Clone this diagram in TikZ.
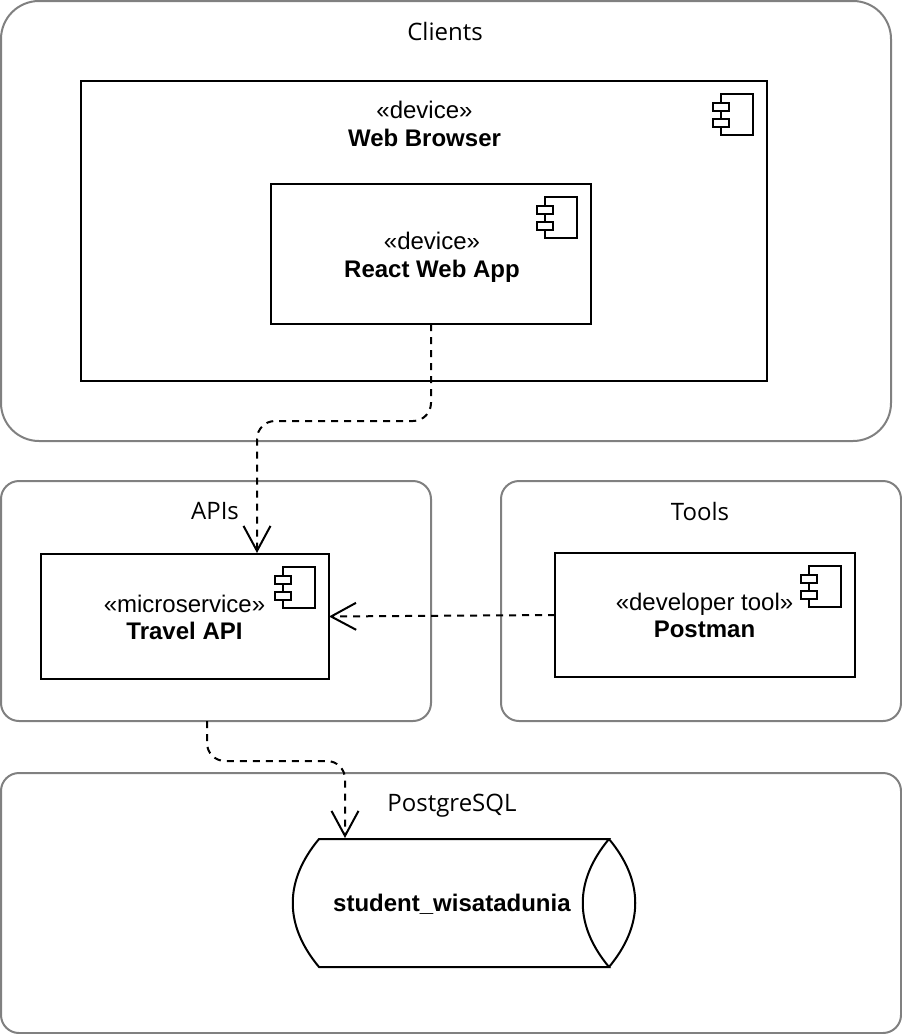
\documentclass[tikz,border=0pt]{standalone}
\usepackage{fontspec}
\setmainfont{Liberation Sans}
\newfontfamily\grpfont{Open Sans}
\usetikzlibrary{arrows.meta}
\tikzset{
  x=1pt,y=-1pt,
  group/.style={draw=black!50,line width=2pt,rounded corners=#1,inner sep=0pt,outer sep=0pt,minimum width=0pt},
  group/.default=18pt,
  compbox/.style={draw=black,line width=2pt,inner sep=0pt,outer sep=0pt},
  txt/.style={inner sep=0pt,align=center,font=\fontsize{24}{27.5}\selectfont},
  grouptitle/.style={inner sep=0pt,font=\grpfont\fontsize{24}{27}\selectfont},
  dep/.style={draw=black,line width=2pt,dash pattern=on 7pt off 6pt,rounded corners=18pt},
  opentip/.style={-{Straight Barb[length=25pt,width=27pt,line width=2pt]}},
  icon/.style={draw=black,line width=2pt,fill=white},
  pics/compicon/.style={code={
    \draw[icon] (-46,13) rectangle (-14,54);
    \draw[icon] (-54,22) rectangle (-38,30);
    \draw[icon] (-54,38) rectangle (-38,46);
  }}
}
\begin{document}
\begin{tikzpicture}
\useasboundingbox (0,0) rectangle (902,1034);
% groups
\node[group=38pt,minimum width=890pt,minimum height=440pt,anchor=north west] (clients) at (1,1) {};
\node[group,minimum width=430pt,minimum height=240pt,anchor=north west] (apis) at (1,481) {};
\node[group,minimum width=400pt,minimum height=240pt,anchor=north west] (tools) at (501,481) {};
\node[group,minimum width=900pt,minimum height=260pt,anchor=north west] (pg) at (1,773) {};
\node[grouptitle] (tclients) at (445,31) {Clients};
\node[grouptitle] (tapis) at (215,511) {APIs};
\node[grouptitle] (ttools) at (700,511) {Tools};
\node[grouptitle] (tpg) at (452,805.5) {PostgreSQL};
% components
\node[compbox,minimum width=686pt,minimum height=300pt,anchor=north west] (web) at (81,81) {};
\node[compbox,minimum width=320pt,minimum height=140pt,anchor=north west] (react) at (271,184) {};
\node[compbox,minimum width=288pt,minimum height=125pt,anchor=north west] (api) at (41,554) {};
\node[compbox,minimum width=300pt,minimum height=124pt,anchor=north west] (postman) at (555,553) {};
\pic at (web.north east) {compicon};
\pic at (react.north east) {compicon};
\pic at (api.north east) {compicon};
\pic at (postman.north east) {compicon};
\node[txt] (lweb) at (424.5,124) {«device»\\\textbf{Web Browser}};
\node[txt] (lreact) at (432,257.5) {«device»\\\textbf{React Web App}};
\node[txt] (lapi) at (184.5,617.5) {«microservice»\\\textbf{Travel API}};
\node[txt] (lpostman) at (704.5,615.5) {«developer tool»\\\textbf{Postman}};
% database
\node[minimum width=290pt,minimum height=128pt,inner sep=0pt,outer sep=0pt,anchor=north west] (db) at (319,839) {};
\draw[line width=2pt,black] (319,839) -- (609,839) .. controls (574,881) and (574,925) .. (609,967) -- (319,967) .. controls (284,925) and (284,881) .. cycle;
\draw[line width=2pt,black] (609,839) .. controls (644,881) and (644,925) .. (609,967);
\node[txt] (ldb) at (452,904.5) {\textbf{student\_wisatadunia}};
% connectors
\coordinate (reactout) at (react.south);
\coordinate (m1) at (431,421);
\coordinate (m2) at (257,421);
\coordinate (apiin) at (257,553);
\draw[dep,opentip] (reactout) -- (m1) -- (m2) -- (apiin);
\draw[dep,opentip] (postman.west) -- (api.east);
\coordinate (apisout) at (207,721);
\coordinate (m3) at (207,761);
\coordinate (m4) at (345,761);
\coordinate (dbin) at (345,838);
\draw[dep,opentip] (apisout) -- (m3) -- (m4) -- (dbin);
\end{tikzpicture}
\end{document}
